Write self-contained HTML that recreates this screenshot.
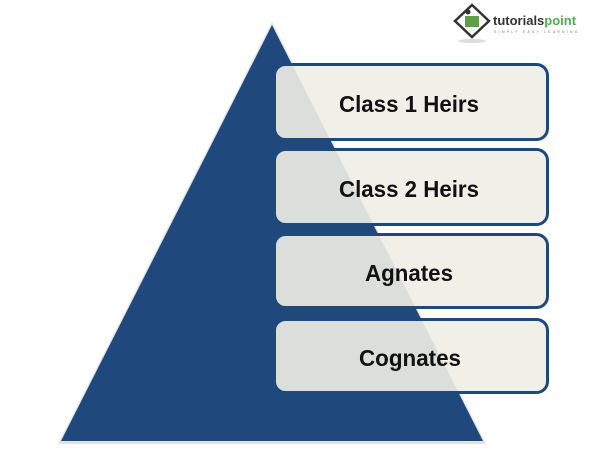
<!DOCTYPE html>
<html><head><meta charset="utf-8"><style>
html,body{margin:0;padding:0;background:#fff;}
svg{display:block;}
</style></head><body>
<svg width="600" height="458" viewBox="0 0 600 458" xmlns="http://www.w3.org/2000/svg">
  <polygon points="272,22 486,444 58,444" fill="#e3e3de"/>
  <polygon points="272,25 483,441 61,441" fill="#1f497d"/>
  <g font-family="'Liberation Sans', sans-serif" font-weight="bold" font-size="23" text-anchor="middle" fill="#111">
    <rect x="274.5" y="64.5" width="273" height="75" rx="11" fill="rgba(240,238,230,0.9)" stroke="#1f497d" stroke-width="3"/>
    <text x="409" y="112" textLength="140" lengthAdjust="spacingAndGlyphs">Class 1 Heirs</text>
    <rect x="274.5" y="149.5" width="273" height="75" rx="11" fill="rgba(240,238,230,0.9)" stroke="#1f497d" stroke-width="3"/>
    <text x="409" y="197" textLength="140" lengthAdjust="spacingAndGlyphs">Class 2 Heirs</text>
    <rect x="274.5" y="234.5" width="273" height="73" rx="11" fill="rgba(240,238,230,0.9)" stroke="#1f497d" stroke-width="3"/>
    <text x="409" y="281" textLength="88" lengthAdjust="spacingAndGlyphs">Agnates</text>
    <rect x="274.5" y="319.5" width="273" height="73" rx="11" fill="rgba(240,238,230,0.9)" stroke="#1f497d" stroke-width="3"/>
    <text x="410" y="366" textLength="102" lengthAdjust="spacingAndGlyphs">Cognates</text>
  </g>
  <g>
    <polygon points="472,5 489,21 472,37 455,21" fill="#fff" stroke="#333" stroke-width="2.5"/>
    <rect x="465" y="16" width="14" height="11" fill="#5ea046"/>
    <circle cx="468" cy="12" r="2.5" fill="#333"/>
    <text x="493" y="25" font-family="'Liberation Sans', sans-serif" font-weight="bold" font-size="13" fill="#333">tutorials<tspan fill="#4caf50">point</tspan></text>
    <text x="494" y="33" font-family="'Liberation Sans', sans-serif" font-size="3.5" letter-spacing="2.2" fill="#777">SIMPLY EASY LEARNING</text>
    <ellipse cx="472" cy="41" rx="14" ry="2" fill="#ddd"/>
  </g>
</svg>
</body></html>
